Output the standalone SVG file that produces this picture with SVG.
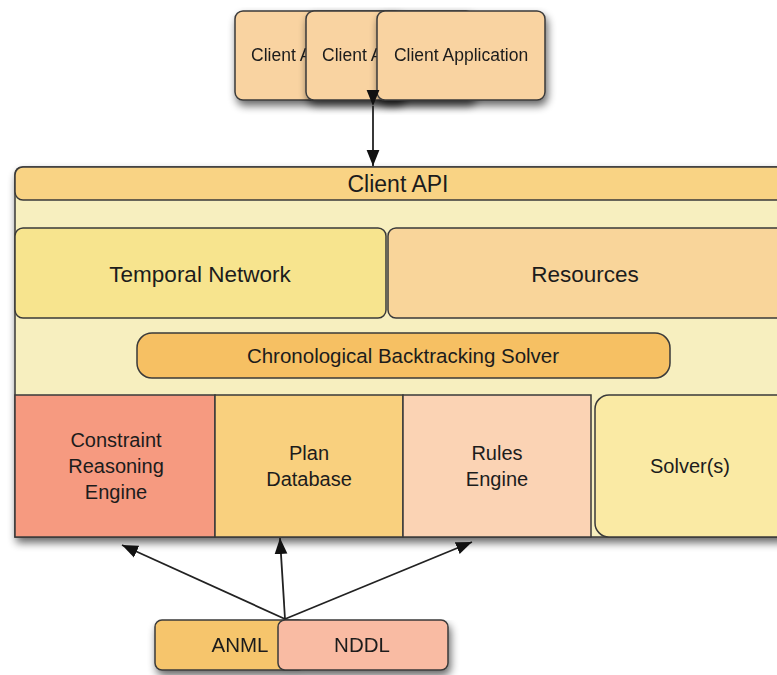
<svg xmlns="http://www.w3.org/2000/svg" width="777" height="675" viewBox="0 0 777 675">
<defs>
<filter id="sh" x="-10%" y="-10%" width="130%" height="140%">
<feGaussianBlur in="SourceAlpha" stdDeviation="4"/>
<feOffset dx="2" dy="5" result="b"/>
<feComponentTransfer><feFuncA type="linear" slope="0.6"/></feComponentTransfer>
<feMerge><feMergeNode/><feMergeNode in="SourceGraphic"/></feMerge>
</filter>
<marker id="ahb" viewBox="0 0 10 10" refX="10" refY="5" markerWidth="16" markerHeight="16" markerUnits="userSpaceOnUse" orient="auto">
<path d="M0,1 L10,5 L0,9 z" fill="#111"/>
</marker>
<clipPath id="clip1"><rect x="235" y="11" width="71" height="89"/></clipPath>
<clipPath id="clip2"><rect x="306" y="11" width="71" height="89"/></clipPath>
</defs>
<style>
.b{stroke:#3a3a3a;stroke-width:1.5}
.t{font-family:"Liberation Sans",Arial,sans-serif;fill:#1c1c1c;text-anchor:middle}
.ts{font-family:"Liberation Sans",Arial,sans-serif;fill:#1c1c1c;text-anchor:start}
.c{stroke:#222;stroke-width:1.8;fill:none}
</style>
<rect width="777" height="675" fill="#fff"/>

<g id="client-apps">
<g id="client-app-1" filter="url(#sh)"><rect class="b" x="235" y="11" width="168" height="89" rx="8" fill="#f9d3a1"/><text class="ts" x="251" y="61" font-size="17.5" clip-path="url(#clip1)">Client A</text></g>
<g id="client-app-2" filter="url(#sh)"><rect class="b" x="306" y="11" width="168" height="89" rx="8" fill="#f9d3a1"/><text class="ts" x="322" y="61" font-size="17.5" clip-path="url(#clip2)">Client A</text></g>
<g id="client-app-3" filter="url(#sh)"><rect class="b" x="377" y="11" width="168" height="89" rx="8" fill="#f9d3a1"/><text class="t" x="461" y="61" font-size="17.5">Client Application</text></g>
</g>

<g id="main" filter="url(#sh)">
<path class="b" d="M23,167 H790 V537 H15 V175 Q15,167 23,167 Z" fill="#f7efbf"/>
</g>
<g id="client-api"><rect class="b" x="15" y="167" width="780" height="33" rx="8" fill="#f9d384"/><text class="t" x="398" y="192" font-size="23">Client API</text></g>
<g id="temporal-network"><rect class="b" x="15" y="228" width="371" height="90" rx="8" fill="#f7e48e"/><text class="t" x="200" y="282" font-size="22.5">Temporal Network</text></g>
<g id="resources"><rect class="b" x="388" y="228" width="400" height="90" rx="8" fill="#f9d59a"/><text class="t" x="585" y="282" font-size="22.5">Resources</text></g>
<g id="cbs"><rect class="b" x="137" y="333" width="533" height="45" rx="15" fill="#f6c063"/><text class="t" x="403" y="363" font-size="20.5">Chronological Backtracking Solver</text></g>
<g id="constraint"><rect class="b" x="15" y="395" width="200" height="142" fill="#f69a80"/><text class="t" x="116" y="447" font-size="20">Constraint</text><text class="t" x="116" y="473" font-size="20">Reasoning</text><text class="t" x="116" y="499" font-size="20">Engine</text></g>
<g id="plan-db"><rect class="b" x="215" y="395" width="188" height="142" fill="#f9d07e"/><text class="t" x="309" y="460" font-size="20">Plan</text><text class="t" x="309" y="486" font-size="20">Database</text></g>
<g id="rules"><rect class="b" x="403" y="395" width="188" height="142" fill="#fbd3b4"/><text class="t" x="497" y="460" font-size="20">Rules</text><text class="t" x="497" y="486" font-size="20">Engine</text></g>
<g id="solvers"><rect class="b" x="595" y="395" width="195" height="142" rx="14" fill="#faeaa4"/><text class="t" x="690" y="473" font-size="20">Solver(s)</text></g>

<g id="languages" filter="url(#sh)">
<g id="anml"><rect class="b" x="155" y="620" width="150" height="50" rx="7" fill="#f6c56c"/><text class="t" x="240" y="652" font-size="20.5">ANML</text></g>
<g id="nddl"><rect class="b" x="278" y="620" width="170" height="50" rx="7" fill="#f9bba3"/><text class="t" x="362" y="652" font-size="20.5">NDDL</text></g>
</g>

<g id="connectors">
<line class="c" x1="373" y1="106" x2="373" y2="166" marker-start="url(#ahb)" marker-end="url(#ahb)"/>
<line class="c" x1="285" y1="619" x2="122" y2="545" marker-end="url(#ahb)"/>
<line class="c" x1="285" y1="619" x2="280" y2="538" marker-end="url(#ahb)"/>
<line class="c" x1="285" y1="619" x2="472" y2="542" marker-end="url(#ahb)"/>
</g>
</svg>
